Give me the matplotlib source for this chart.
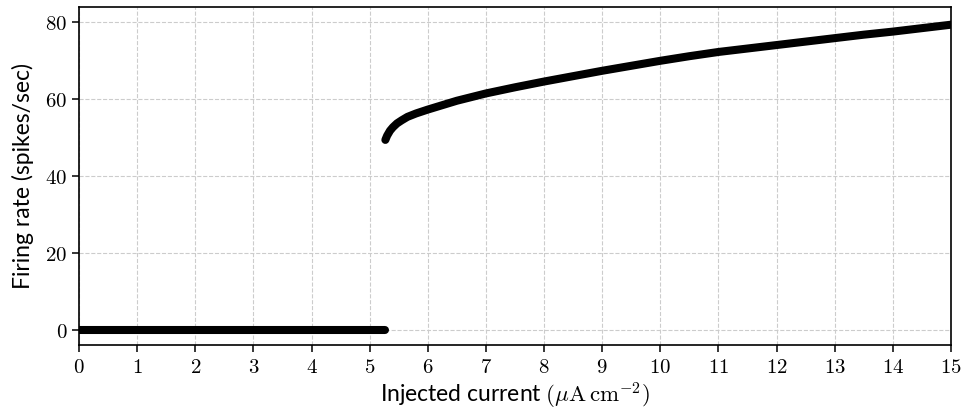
import numpy as np
import matplotlib
matplotlib.use("Agg")
import matplotlib.pyplot as plt
from matplotlib.ticker import FuncFormatter

plt.rcParams['mathtext.fontset'] = 'cm'

# silent branch (no spikes)
current_off = [0.0, 1.0, 2.0, 3.0, 4.0, 5.0, 5.27]
rate_off = [0, 0, 0, 0, 0, 0, 0]

# repetitive firing branch
current_on = [5.27, 5.3, 5.35, 5.4, 5.47, 5.55, 5.65, 5.8, 6.0, 6.5, 7.0, 7.5,
              8.0, 8.5, 9.0, 9.5, 10.0, 10.5, 11.0, 11.5, 12.0, 12.5, 13.0,
              13.5, 14.0, 14.5, 15.0]
rate_on = [49.4, 50.5, 51.8, 52.7, 53.7, 54.5, 55.4, 56.3, 57.3, 59.6, 61.5,
           63.1, 64.6, 66.0, 67.4, 68.7, 70.0, 71.2, 72.3, 73.2, 74.1, 75.0,
           75.9, 76.8, 77.6, 78.5, 79.4]

fig = plt.figure(figsize=(9.62, 4.13), dpi=100)
ax = fig.add_axes([0.0821, 0.1646, 0.9065, 0.8184])

ax.plot(current_off, rate_off, color="black", lw=5.8, solid_capstyle="round", zorder=3)
ax.plot(current_on, rate_on, color="black", lw=5.8, solid_capstyle="round",
        solid_joinstyle="round", zorder=3)

ax.set_xlim(0, 15)
ax.set_ylim(-4, 84)
ax.set_xticks(np.arange(0, 16, 1))
ax.set_yticks([0, 20, 40, 60, 80])
fmt = FuncFormatter(lambda v, p: r'$%d$' % v)
ax.xaxis.set_major_formatter(fmt)
ax.yaxis.set_major_formatter(fmt)
ax.tick_params(labelsize=15, length=5, width=1.1)
ax.grid(True, ls="--", color="#cccccc", lw=0.8)
ax.set_axisbelow(True)
for s in ax.spines.values():
    s.set_linewidth(1.2)

ax.set_xlabel(r'Injected current $(\mu\mathrm{A\,cm^{-2}})$', fontsize=16.5,
              family="Lato", labelpad=3)
ax.set_ylabel('Firing rate (spikes/sec)', fontsize=16.5, family="Lato", labelpad=8)

fig.savefig("out.png", dpi=100)
